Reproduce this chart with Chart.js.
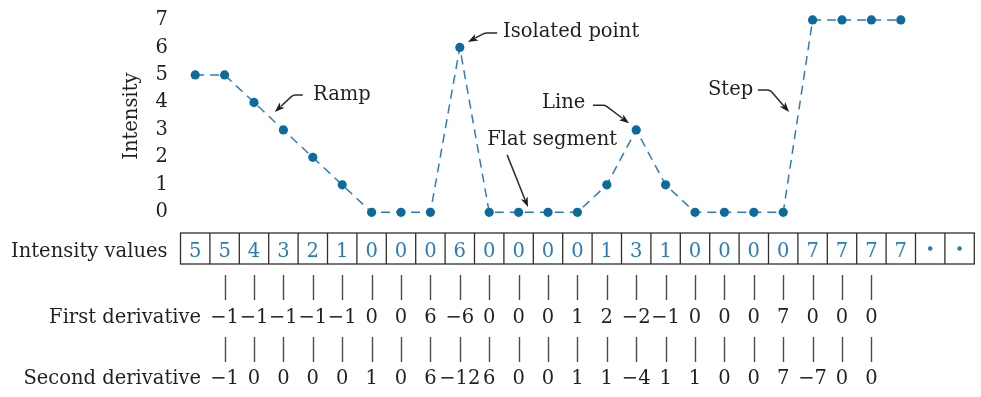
<!DOCTYPE html>
<html>
<head>
<meta charset="utf-8">
<script src="https://cdn.jsdelivr.net/npm/chart.js@4/dist/chart.umd.min.js"></script>
<style>
  html, body { margin: 0; padding: 0; background: #fff; }
  #wrap { width: 981px; height: 397px; }
</style>
</head>
<body>
<div id="wrap"><canvas id="c" width="981" height="397"></canvas></div>
<script>
// Sample values along the scan line
const intensity = [5, 5, 4, 3, 2, 1, 0, 0, 0, 6, 0, 0, 0, 0, 1, 3, 1, 0, 0, 0, 0, 7, 7, 7, 7];
// Extra cells at the end of the table (the sequence continues)
const trailingCells = ['•', '•'];
// Derivatives, listed from sample index 1 onwards
const firstDerivative = [-1, -1, -1, -1, -1, 0, 0, 6, -6, 0, 0, 0, 1, 2, -2, -1, 0, 0, 0, 7, 0, 0, 0];
const secondDerivative = [-1, 0, 0, 0, 0, 1, 0, 6, -12, 6, 0, 0, 1, 1, -4, 1, 1, 0, 0, 7, -7, 0, 0];
const derivativeStart = 1;
const yTicks = [0, 1, 2, 3, 4, 5, 6, 7];
const rowLabels = ['Intensity values', 'First derivative', 'Second derivative'];

// Callouts: text anchor (left, baseline) and arrow path, in data units (sample index, intensity)
const callouts = [
  { text: 'Isolated point', at: [10.47, 6.38], path: [[10.27, 6.53], [9.86, 6.53], [9.28, 6.20]] },
  { text: 'Ramp',           at: [4.01, 4.09],  path: [[3.66, 4.27], [3.33, 4.27], [2.71, 3.65]] },
  { text: 'Line',           at: [11.80, 3.79], path: [[13.53, 3.90], [13.94, 3.90], [14.76, 3.24]] },
  { text: 'Flat segment',   at: [9.93, 2.45],  path: [[10.61, 2.09], [11.32, 0.19]] },
  { text: 'Step',           at: [17.44, 4.27], path: [[19.14, 4.45], [19.55, 4.45], [20.20, 3.65]] }
];

const FONT = "'DejaVu Serif', serif";
const FS = 19.5;
const INK = '#231f20';
const BLUE_TEXT = '#2a7cb8';

const fmt = v => (v < 0 ? '\u2212' + Math.abs(v) : String(v));

function drawArrow(ctx, pts) {
  const n = pts.length;
  const tip = pts[n - 1], prev = pts[n - 2];
  const dx = tip.x - prev.x, dy = tip.y - prev.y;
  const len = Math.hypot(dx, dy);
  const ux = dx / len, uy = dy / len;
  const headLen = 10, headHalf = 3.6;
  const base = { x: tip.x - ux * headLen * 0.8, y: tip.y - uy * headLen * 0.8 };
  ctx.save();
  ctx.strokeStyle = '#2b2b2b';
  ctx.fillStyle = '#1e1e1e';
  ctx.lineWidth = 1.5;
  ctx.beginPath();
  ctx.moveTo(pts[0].x, pts[0].y);
  for (let i = 1; i < n - 1; i++) {
    ctx.arcTo(pts[i].x, pts[i].y, pts[i + 1].x, pts[i + 1].y, 6);
  }
  ctx.lineTo(base.x, base.y);
  ctx.stroke();
  const bx = tip.x - ux * headLen, by = tip.y - uy * headLen;
  ctx.beginPath();
  ctx.moveTo(tip.x, tip.y);
  ctx.lineTo(bx - uy * headHalf, by + ux * headHalf);
  ctx.lineTo(tip.x - ux * headLen * 0.75, tip.y - uy * headLen * 0.75);
  ctx.lineTo(bx + uy * headHalf, by - ux * headHalf);
  ctx.closePath();
  ctx.fill();
  ctx.restore();
}

const tablePlugin = {
  id: 'profileTable',
  afterDraw(chart) {
    const ctx = chart.ctx;
    const xs = chart.scales.x, ys = chart.scales.y;
    const X = v => xs.getPixelForValue(v);
    const Y = v => ys.getPixelForValue(v);
    const base = chart.chartArea.bottom;

    // Vertical layout of the table rows below the plot
    const tableTop = base + 13.8, tableH = 31;
    const valuesBaseline = base + 37.3;
    const bars1 = [base + 55.8, base + 80.8], text1 = base + 103.3;
    const bars2 = [base + 117.8, base + 142.8], text2 = base + 164.8;

    const cells = intensity.map(String).concat(trailingCells);

    ctx.save();
    ctx.font = FS + 'px ' + FONT;
    ctx.textBaseline = 'alphabetic';

    // Table of intensity values
    ctx.strokeStyle = '#2e2e2e';
    ctx.lineWidth = 1.3;
    const left = X(-0.5), right = X(cells.length - 0.5);
    ctx.strokeRect(left, tableTop, right - left, tableH);
    ctx.beginPath();
    for (let i = 1; i < cells.length; i++) {
      const px = X(i - 0.5);
      ctx.moveTo(px, tableTop);
      ctx.lineTo(px, tableTop + tableH);
    }
    ctx.stroke();

    ctx.fillStyle = BLUE_TEXT;
    ctx.textAlign = 'center';
    cells.forEach((c, i) => {
      if (c === '•') {
        ctx.beginPath();
        ctx.arc(X(i), tableTop + tableH / 2, 2.3, 0, Math.PI * 2);
        ctx.fill();
      } else {
        ctx.fillText(c, X(i), valuesBaseline);
      }
    });

    // Row labels
    ctx.fillStyle = INK;
    ctx.textAlign = 'right';
    ctx.fillText(rowLabels[0], left - 13, valuesBaseline);
    ctx.fillText(rowLabels[1], X(0.2), text1);
    ctx.fillText(rowLabels[2], X(0.2), text2);

    // Derivative rows with connector bars
    ctx.strokeStyle = '#4a4a4a';
    ctx.lineWidth = 1.4;
    ctx.textAlign = 'center';
    [[firstDerivative, bars1, text1], [secondDerivative, bars2, text2]].forEach(([vals, bars, ty]) => {
      ctx.beginPath();
      vals.forEach((v, k) => {
        const px = Math.round(X(derivativeStart + k)) + 0.5;
        ctx.moveTo(px, bars[0]);
        ctx.lineTo(px, bars[1]);
      });
      ctx.stroke();
      vals.forEach((v, k) => ctx.fillText(fmt(v), X(derivativeStart + k), ty));
    });

    // Callouts
    ctx.textAlign = 'left';
    ctx.fillStyle = INK;
    callouts.forEach(c => {
      ctx.fillText(c.text, X(c.at[0]), Y(c.at[1]));
      drawArrow(ctx, c.path.map(p => ({ x: X(p[0]), y: Y(p[1]) })));
    });
    ctx.restore();
  }
};

Chart.defaults.font.family = FONT;
Chart.defaults.color = INK;

new Chart(document.getElementById('c'), {
  type: 'line',
  data: {
    datasets: [{
      data: intensity.map((v, i) => ({ x: i, y: v })),
      borderColor: '#2f7db5',
      borderWidth: 1.5,
      borderDash: [9, 6],
      pointRadius: 4.6,
      pointBackgroundColor: '#0d6a9d',
      pointBorderWidth: 0,
      tension: 0,
      fill: false
    }]
  },
  options: {
    responsive: false,
    animation: false,
    events: [],
    layout: { padding: { left: 120, right: 6.7, top: 13.1, bottom: 177.8 } },
    plugins: { legend: { display: false }, tooltip: { enabled: false } },
    scales: {
      x: {
        type: 'linear',
        display: false,
        min: -0.5,
        max: intensity.length + trailingCells.length - 0.5
      },
      y: {
        type: 'linear',
        min: -0.25,
        max: 7.25,
        grid: { display: false, drawTicks: false },
        border: { display: false },
        afterBuildTicks: s => { s.ticks = yTicks.map(v => ({ value: v })); },
        afterFit: s => { s.width = 60.5; s.paddingTop = 0; s.paddingBottom = 0; },
        ticks: { padding: 12.5, color: INK, font: { size: FS, family: FONT } },
        title: {
          display: true,
          text: 'Intensity',
          color: INK,
          padding: { top: 0, bottom: 0 },
          font: { size: FS, family: FONT }
        }
      }
    }
  },
  plugins: [tablePlugin]
});
</script>
</body>
</html>
